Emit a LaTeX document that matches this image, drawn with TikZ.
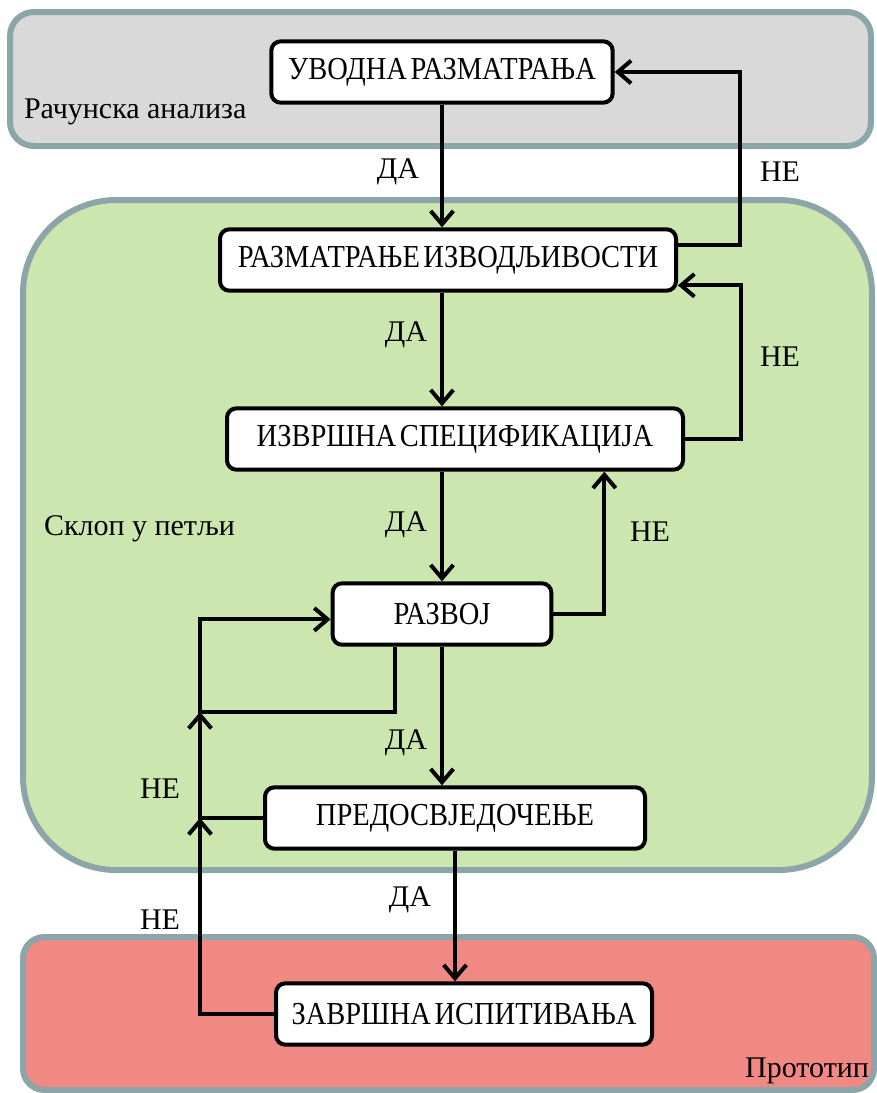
\documentclass[tikz,border=0pt]{standalone}
\usepackage{fontspec}
\setmainfont{Liberation Serif}
\newfontfamily\uzak{Liberation Serif}[FakeStretch=0.89, WordSpace=0.5]
\usetikzlibrary{arrows.meta}

\definecolor{okvir}{RGB}{140,165,168}
\definecolor{sivo}{RGB}{217,217,217}
\definecolor{zeleno}{RGB}{203,230,174}
\definecolor{crveno}{RGB}{240,136,132}

\tikzset{
  korak/.style={draw, line width=3pt, rounded corners=7pt, fill=white,
    minimum height=46pt, inner sep=0pt, font=\uzak\fontsize{24}{28}\selectfont},
  oblast/.style={draw=okvir, line width=4.5pt},
  natpis/.style={inner sep=0pt, font=\fontsize{22.5}{26}\selectfont},
}

\begin{document}
\begin{tikzpicture}[x=0.75pt,y=-0.75pt,line width=3pt,
    >={Straight Barb[length=10pt,width=17pt,line width=3pt]}]
  \useasboundingbox (0,0) rectangle (876,1093);
  % pozadina
  \draw[oblast, fill=sivo, rounded corners=18pt] (10,12) rectangle (871,146);
  \draw[oblast, fill=zeleno, rounded corners=70pt] (23,200) rectangle (872,870);
  \draw[oblast, fill=crveno, rounded corners=16pt] (23,937) rectangle (874,1090);
  \node[natpis, anchor=base west] (racun) at (22,118) {Рачунска анализа};
  \node[natpis, anchor=base west] (sklop) at (42,535) {Склоп у петљи};
  \node[natpis, anchor=base east] (proto) at (871,1077) {Прототип};

  % koraci
  \node[korak, minimum width=256pt] (uvod) at (442,72) {УВОДНА РАЗМАТРАЊА};
  \node[korak, minimum width=342pt] (izvod) at (448,260) {РАЗМАТРАЊЕ ИЗВОДЉИВОСТИ};
  \node[korak, minimum width=342pt] (izvrs) at (455,439) {ИЗВРШНА СПЕЦИФИКАЦИЈА};
  \node[korak, minimum width=164pt] (razvoj) at (442,614) {РАЗВОЈ};
  \node[korak, minimum width=285pt] (predo) at (455,818) {ПРЕДОСВЈЕДОЧЕЊЕ};
  \node[korak, minimum width=282pt] (zavrs) at (464,1014) {ЗАВРШНА ИСПИТИВАЊА};
  \coordinate (petlja) at (200,712);

  % grane DA
  \draw[->] (uvod.south) -- (izvod.north -| uvod.south);
  \draw[->] (izvod.south -| uvod) -- (izvrs.north -| uvod);
  \draw[->] (izvrs.south -| razvoj) -- (razvoj.north);
  \draw[->] (razvoj.south) -- (predo.north -| razvoj.south);
  \draw[->] (predo.south) -- (zavrs.north -| predo.south);
  \node[natpis] (da1) at (398,172) {ДА};
  \node[natpis] (da2) at (406,335) {ДА};
  \node[natpis] (da3) at (406,525) {ДА};
  \node[natpis] (da4) at (406,743) {ДА};
  \node[natpis] (da5) at (410,900) {ДА};

  % grane NE
  \draw[->] ([yshift=11pt]izvod.east) -- ++(62,0) |- (uvod.east);
  \draw[->] (izvrs.east) -- ++(56,0) |- ([yshift=-19pt]izvod.east);
  \draw[->] (razvoj.east) -| ([xshift=112pt]izvrs.south);
  \draw[->] ([xshift=-35pt]razvoj.south) |- (petlja) |- ([yshift=-4pt]razvoj.west);
  \draw[->] (predo.west) -| (petlja);
  \draw[->] (zavrs.west) -| (predo.west -| petlja);
  \node[natpis] (ne1) at (780,172) {НЕ};
  \node[natpis] (ne2) at (780,357) {НЕ};
  \node[natpis] (ne3) at (650,532) {НЕ};
  \node[natpis] (ne4) at (160,789) {НЕ};
  \node[natpis] (ne5) at (160,920) {НЕ};
\end{tikzpicture}
\end{document}
